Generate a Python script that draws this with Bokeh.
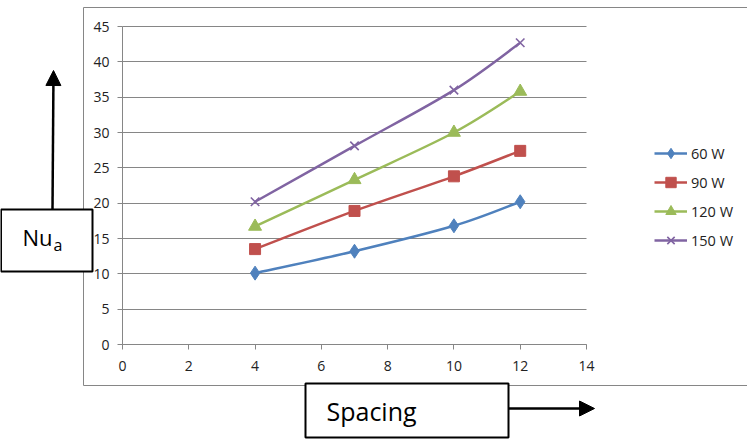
from bokeh.plotting import figure
from bokeh.models import (Legend, LegendItem, BoxAnnotation, Label, Arrow,
                          NormalHead, SingleIntervalTicker, Range1d,
                          LinearAxis, Grid)
from bokeh.embed import file_html
from bokeh.resources import INLINE

# Spacing values and average Nusselt number for each heater power
spacing = [4, 7, 10, 12]
nu_60w = [10.1, 13.2, 16.8, 20.2]
nu_90w = [13.5, 18.9, 23.8, 27.4]
nu_120w = [16.7, 23.3, 30.0, 35.8]
nu_150w = [20.2, 28.1, 36.0, 42.7]
series_names = ["60 W", "90 W", "120 W", "150 W"]
x_limits = (0, 14)
y_limits = (0, 45)

W, H = 747, 439
# pixel box of the plotting area inside the canvas
PL, PR, PT, PB = 122, 586, 26, 344

# the frame fills the whole canvas; ranges are set so the plotting area
# lands on the pixel box above, leaving room for the decorations around it
xs_per_px = (x_limits[1] - x_limits[0]) / (PR - PL)
ys_per_px = (y_limits[1] - y_limits[0]) / (PB - PT)
x_range = Range1d(x_limits[0] - PL * xs_per_px, x_limits[1] + (W - PR) * xs_per_px)
y_range = Range1d(y_limits[0] - (H - PB) * ys_per_px, y_limits[1] + PT * ys_per_px)

p = figure(width=W, height=H, output_backend="svg", toolbar_location=None,
           x_range=x_range, y_range=y_range, min_border=0,
           x_axis_location=None, y_axis_location=None)
p.outline_line_color = None
p.background_fill_color = "white"
p.border_fill_color = "white"
p.grid.visible = False

FONT = "Open Sans"
GRID = "#868686"
TEXT = "#222222"

xaxis = LinearAxis(fixed_location=y_limits[0], bounds=x_limits,
                   ticker=SingleIntervalTicker(interval=2))
yaxis = LinearAxis(fixed_location=x_limits[0], bounds=y_limits,
                   ticker=SingleIntervalTicker(interval=5))
for ax in (xaxis, yaxis):
    ax.axis_line_color = GRID
    ax.major_tick_line_color = GRID
    ax.minor_tick_line_color = None
    ax.major_tick_in = 0
    ax.major_tick_out = 5
    ax.major_label_text_font = FONT
    ax.major_label_text_font_size = "14px"
    ax.major_label_text_color = TEXT
xaxis.major_label_standoff = 11
yaxis.major_label_standoff = 8
p.add_layout(xaxis, "below")
p.add_layout(yaxis, "left")

ygrid = Grid(dimension=1, ticker=yaxis.ticker, bounds=y_limits,
             cross_bounds=x_limits, grid_line_color=GRID, grid_line_width=1)
p.add_layout(ygrid)


def smooth_segments(xs, ys, t=1 / 6):
    """Cubic Bezier pieces (Catmull-Rom style) through the given points."""
    n = len(xs)
    out = {k: [] for k in ("x0", "y0", "x1", "y1", "cx0", "cy0", "cx1", "cy1")}
    for i in range(n - 1):
        xm, ym = (xs[i - 1], ys[i - 1]) if i > 0 else (xs[i], ys[i])
        xp, yp = (xs[i + 2], ys[i + 2]) if i + 2 < n else (xs[i + 1], ys[i + 1])
        out["x0"].append(xs[i]); out["y0"].append(ys[i])
        out["x1"].append(xs[i + 1]); out["y1"].append(ys[i + 1])
        out["cx0"].append(xs[i] + (xs[i + 1] - xm) * t)
        out["cy0"].append(ys[i] + (ys[i + 1] - ym) * t)
        out["cx1"].append(xs[i + 1] - (xp - xs[i]) * t)
        out["cy1"].append(ys[i + 1] - (yp - ys[i]) * t)
    return out


styles = [
    ("#4F81BD", "diamond", 14, 1),
    ("#C0504D", "square", 11, 1),
    ("#9BBB59", "triangle", 13, 1),
    ("#8064A2", "x", 12, 1.6),
]
items = []
for name, ys, (col, marker, size, mlw) in zip(
        series_names, [nu_60w, nu_90w, nu_120w, nu_150w], styles):
    seg = smooth_segments(spacing, ys)
    r_line = p.bezier(source=seg, x0="x0", y0="y0", x1="x1", y1="y1",
                      cx0="cx0", cy0="cy0", cx1="cx1", cy1="cy1",
                      line_color=col, line_width=2.5)
    r_pts = p.scatter(spacing, ys, marker=marker, size=size,
                      fill_color=col, line_color=col, line_width=mlw)
    items.append(LegendItem(label=name, renderers=[r_line, r_pts]))

# legend anchor is its bottom-left corner, measured up from the canvas bottom
legend = Legend(items=items, location=(654, 186), orientation="vertical",
                glyph_width=33, glyph_height=26, label_height=26,
                spacing=3, padding=0, margin=0, label_standoff=4,
                label_text_font=FONT, label_text_font_size="14.5px",
                label_text_color=TEXT,
                border_line_color=None, background_fill_alpha=0)
p.add_layout(legend)


# canvas pixel (y down) -> screen units (y up from the bottom edge)
def sy(cy):
    return H - cy


def screen_box(left, right, top, bottom, **kw):
    return BoxAnnotation(left=left, right=right, top=sy(top), bottom=sy(bottom),
                         left_units="screen", right_units="screen",
                         top_units="screen", bottom_units="screen",
                         line_alpha=1, **kw)


def screen_text(x, y, text, size):
    return Label(x=x, y=sy(y), x_units="screen", y_units="screen", text=text,
                 text_font=FONT, text_font_size=size, text_color="black",
                 text_baseline="alphabetic")


# outer chart border
p.add_layout(screen_box(83, 760, 7, 385, fill_alpha=0,
                        line_color=GRID, line_width=1))

# Nu_a label box with an upward arrow
p.add_layout(screen_box(0.5, 92, 209, 271, fill_color="white", fill_alpha=1,
                        line_color="black", line_width=2))
p.add_layout(screen_text(22, 236, "Nu", "22px"))
p.add_layout(screen_text(53, 244, "a", "16px"))
p.add_layout(Arrow(x_start=52, y_start=sy(209), x_end=53, y_end=sy(70),
                   start_units="screen", end_units="screen",
                   line_color="black", line_width=2.5,
                   end=NormalHead(size=15, fill_color="black", line_color="black")))

# Spacing label box with a rightward arrow
p.add_layout(screen_box(305, 508, 383, 437, fill_color="white", fill_alpha=1,
                        line_color="black", line_width=2))
p.add_layout(screen_text(326, 410, "Spacing", "25px"))
p.add_layout(Arrow(x_start=508, y_start=sy(408), x_end=594, y_end=sy(408),
                   start_units="screen", end_units="screen",
                   line_color="black", line_width=2.5,
                   end=NormalHead(size=15, fill_color="black", line_color="black")))

open("out.html", "w").write(file_html(p, INLINE))
